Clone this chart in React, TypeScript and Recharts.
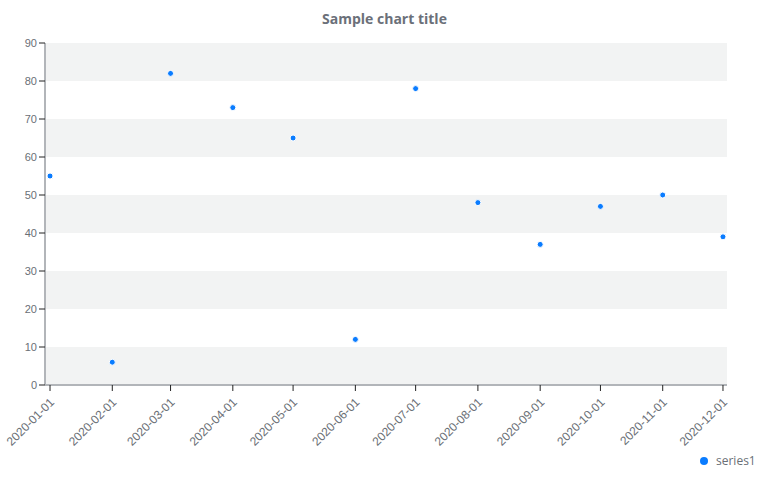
import { ScatterChart, Scatter, XAxis, YAxis, CartesianGrid } from 'recharts'

const months = [
  '2020-01-01', '2020-02-01', '2020-03-01', '2020-04-01', '2020-05-01', '2020-06-01',
  '2020-07-01', '2020-08-01', '2020-09-01', '2020-10-01', '2020-11-01', '2020-12-01',
]
const series1 = [55, 6, 82, 73, 65, 12, 78, 48, 37, 47, 50, 39]
const yTicks = [0, 10, 20, 30, 40, 50, 60, 70, 80, 90]

const DAY = 86400000
const toTime = (d: string) => Date.parse(d + 'T00:00:00Z')
const xTicks = months.map(toTime)
const data = months.map((m, i) => ({ t: toTime(m), v: series1[i] }))

const BLUE = '#0a7cff'
const AXIS = '#b2b5b9'
const TEXT = '#6a6f76'

const DateTick = ({ x, y, payload }: any) => (
  <g transform={`translate(${x + 2},${y + 7})`}>
    <text
      transform="rotate(-45)"
      textAnchor="end"
      dy="0.35em"
      fill={TEXT}
      fontSize={12}
      fontFamily="'Liberation Sans', Arial, sans-serif"
    >
      {new Date(payload.value).toISOString().slice(0, 10)}
    </text>
  </g>
)

const Dot = ({ cx, cy }: any) => (
  <circle cx={cx} cy={cy} r={3} fill={BLUE} stroke="#fff" strokeWidth={1} />
)

export default function App() {
  return (
    <div style={{ position: 'absolute', left: 0, top: 0, width: 769, height: 492, background: '#fff' }}>
      <div
        style={{
          position: 'absolute', top: 9, left: 0, width: 769, textAlign: 'center',
          fontFamily: "'Open Sans', sans-serif", fontWeight: 700, fontSize: 14, color: '#6b7079',
        }}
      >
        Sample chart title
      </div>
      <ScatterChart width={769} height={492} margin={{ top: 43, right: 42, bottom: 0, left: 0 }}>
        <CartesianGrid
          vertical={false}
          stroke="transparent"
          horizontalFill={['#f2f3f3', '#ffffff']}
        />
        <XAxis
          type="number"
          dataKey="t"
          domain={[xTicks[0] - 2.5 * DAY, xTicks[11] + 2 * DAY]}
          ticks={xTicks}
          tick={<DateTick />}
          height={107}
          interval={0}
          axisLine={{ stroke: AXIS, strokeWidth: 2 }}
          tickLine={{ stroke: '#222' }}
        />
        <YAxis
          type="number"
          dataKey="v"
          domain={[0, 90]}
          ticks={yTicks}
          width={45}
          interval={0}
          tick={{ fill: TEXT, fontSize: 11, fontFamily: "'Liberation Sans', Arial, sans-serif" }}
          axisLine={{ stroke: AXIS, strokeWidth: 2 }}
          tickLine={{ stroke: '#222' }}
        />
        <Scatter name="series1" data={data} fill={BLUE} shape={<Dot />} isAnimationActive={false} />
      </ScatterChart>
      <div
        style={{
          position: 'absolute', top: 452, left: 700, display: 'flex', alignItems: 'center',
          fontFamily: "'Open Sans', sans-serif", fontSize: 12, color: TEXT,
        }}
      >
        <span style={{ width: 8, height: 8, borderRadius: 4, background: BLUE, marginRight: 8 }} />
        series1
      </div>
    </div>
  )
}
